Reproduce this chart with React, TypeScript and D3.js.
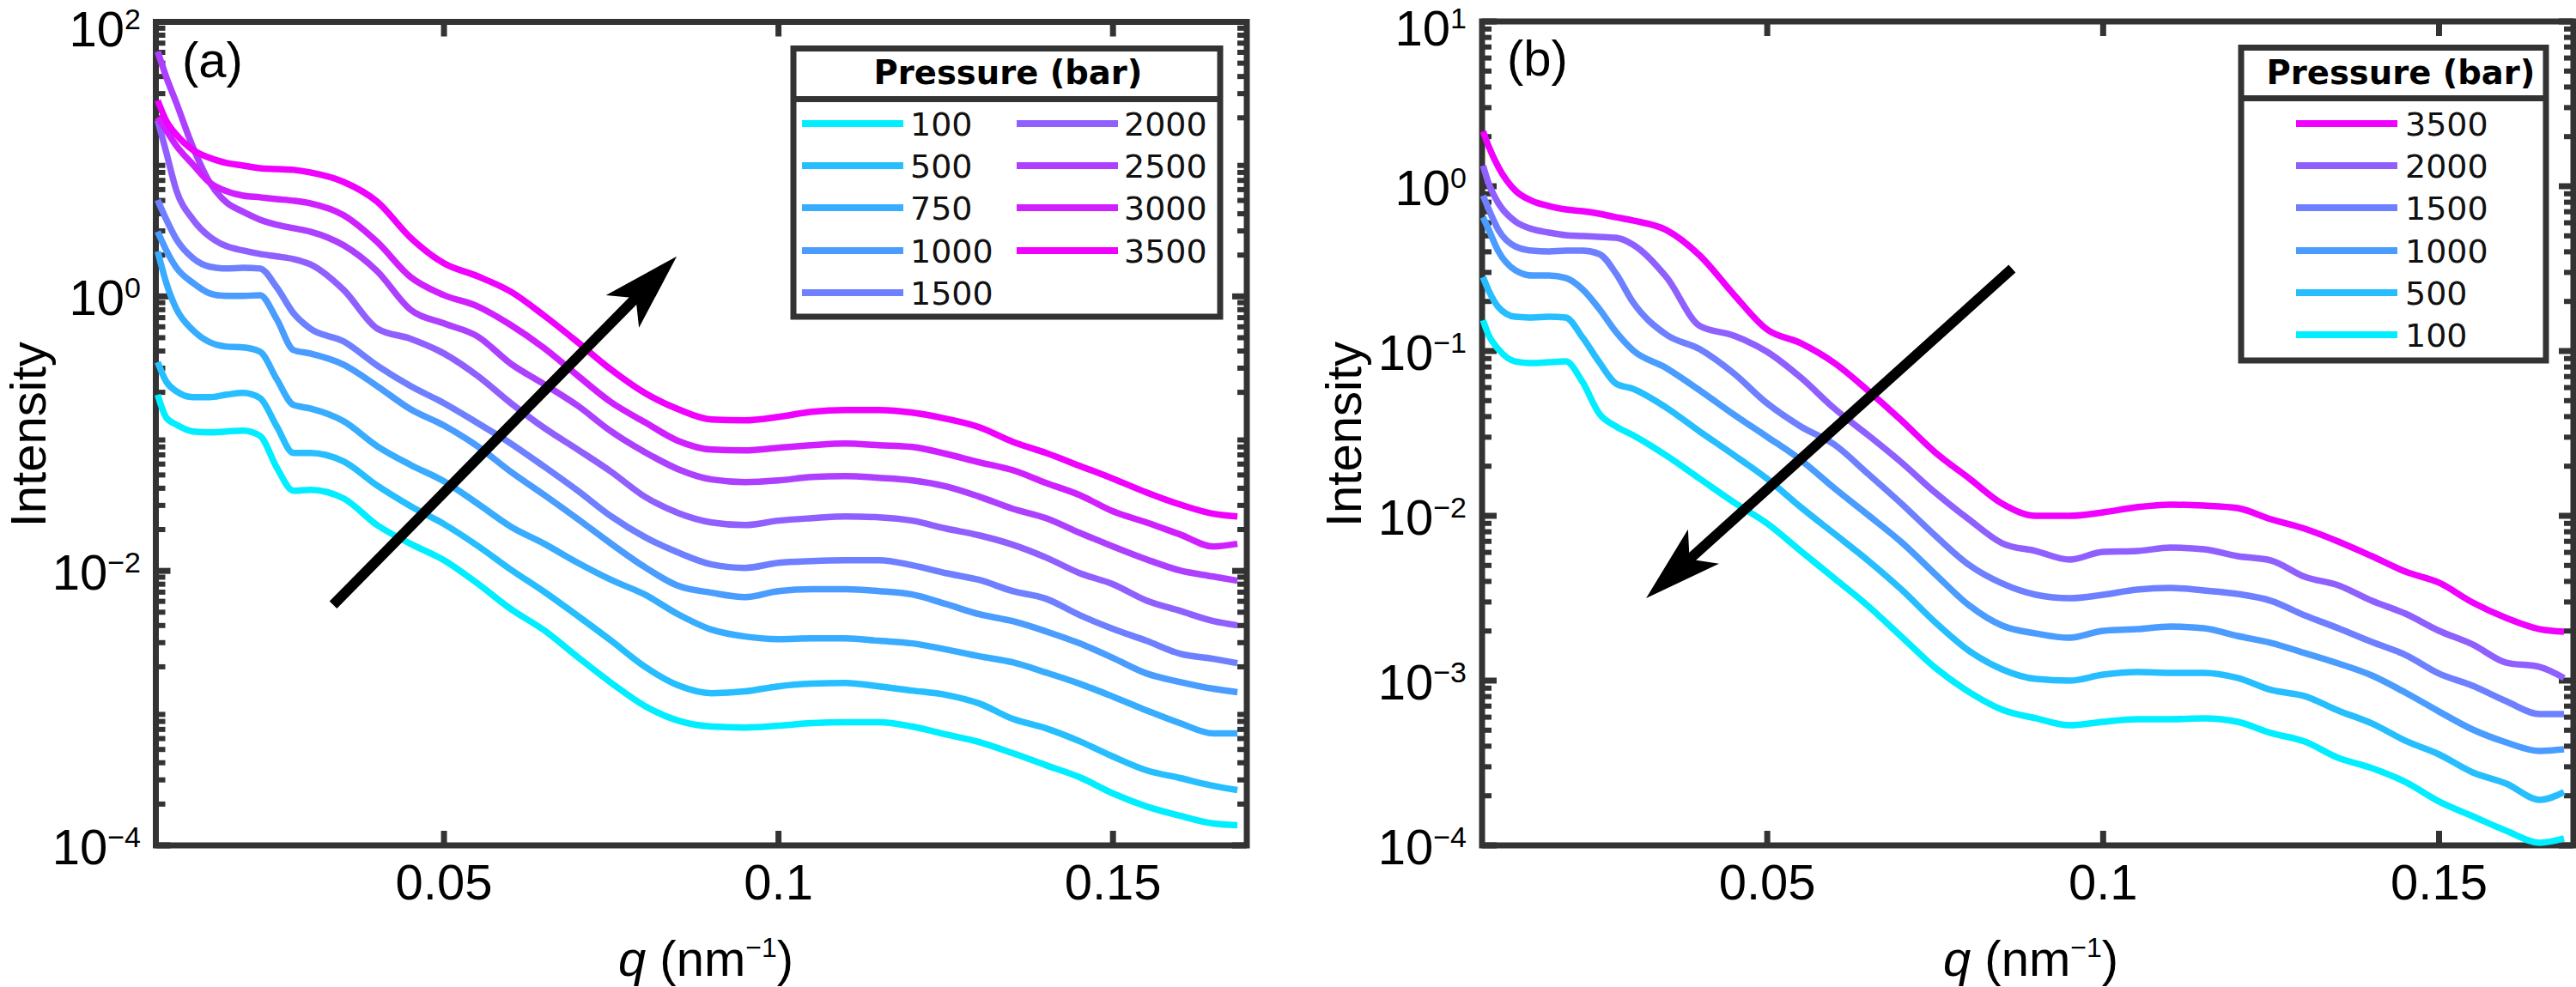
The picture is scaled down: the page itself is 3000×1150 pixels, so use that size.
import React from "react";
import * as d3 from "d3";

// shared q grid (nm^-1); first value differs per panel
const qTail = [0.0085,0.01,0.0125,0.015,0.0175,0.02,0.0225,0.025,0.0275,0.03,0.035,0.04,0.045,0.05,0.055,0.06,0.065,0.07,0.075,0.08,0.085,0.09,0.095,0.1,0.105,0.11,0.115,0.12,0.125,0.13,0.135,0.14,0.145,0.15,0.155,0.16,0.165,0.1686];
const qA = [0.0072, ...qTail];
const qB = [0.0077, ...qTail];

// log10(Intensity), panel (a)
const a100 = [-0.716,-0.884,-0.934,-0.984,-0.991,-0.984,-0.978,-1.016,-1.247,-1.416,-1.409,-1.472,-1.666,-1.803,-1.922,-2.091,-2.278,-2.434,-2.628,-2.816,-2.984,-3.091,-3.134,-3.141,-3.128,-3.109,-3.103,-3.103,-3.134,-3.191,-3.247,-3.328,-3.416,-3.503,-3.622,-3.716,-3.784,-3.841,-3.853];
const a500 = [-0.478,-0.622,-0.691,-0.734,-0.734,-0.716,-0.703,-0.741,-0.947,-1.141,-1.141,-1.203,-1.378,-1.528,-1.659,-1.816,-1.991,-2.153,-2.328,-2.509,-2.697,-2.834,-2.891,-2.878,-2.841,-2.822,-2.816,-2.841,-2.872,-2.903,-2.966,-3.078,-3.147,-3.241,-3.353,-3.453,-3.509,-3.566,-3.597];
const a750 = [0.328,0.097,-0.091,-0.247,-0.334,-0.366,-0.372,-0.403,-0.603,-0.791,-0.816,-0.909,-1.091,-1.228,-1.347,-1.509,-1.678,-1.803,-1.941,-2.066,-2.172,-2.316,-2.428,-2.478,-2.497,-2.491,-2.491,-2.509,-2.528,-2.572,-2.622,-2.666,-2.741,-2.822,-2.916,-3.016,-3.109,-3.184,-3.184];
const a1000 = [0.472,0.334,0.209,0.097,0.022,0.003,0.003,0.009,-0.166,-0.391,-0.416,-0.497,-0.653,-0.822,-0.941,-1.091,-1.278,-1.447,-1.622,-1.803,-1.972,-2.109,-2.159,-2.191,-2.147,-2.134,-2.134,-2.147,-2.172,-2.241,-2.316,-2.366,-2.441,-2.528,-2.634,-2.747,-2.809,-2.859,-2.884];
const a1500 = [0.703,0.559,0.416,0.278,0.216,0.203,0.209,0.203,0.066,-0.122,-0.234,-0.328,-0.503,-0.653,-0.778,-0.922,-1.072,-1.241,-1.416,-1.603,-1.753,-1.866,-1.953,-1.978,-1.941,-1.928,-1.922,-1.922,-1.959,-2.016,-2.066,-2.147,-2.203,-2.322,-2.422,-2.509,-2.603,-2.641,-2.672];
const a2000 = [1.284,1.047,0.772,0.559,0.434,0.366,0.334,0.309,0.291,0.272,0.234,0.047,-0.234,-0.309,-0.416,-0.578,-0.778,-0.959,-1.116,-1.278,-1.459,-1.578,-1.647,-1.666,-1.634,-1.616,-1.603,-1.609,-1.634,-1.691,-1.741,-1.809,-1.903,-2.016,-2.097,-2.216,-2.291,-2.366,-2.397];
const a2500 = [1.784,1.597,1.409,1.084,0.828,0.684,0.616,0.559,0.522,0.497,0.472,0.372,0.184,-0.097,-0.197,-0.291,-0.491,-0.641,-0.797,-0.984,-1.134,-1.259,-1.334,-1.353,-1.341,-1.316,-1.309,-1.322,-1.341,-1.384,-1.459,-1.547,-1.616,-1.722,-1.822,-1.916,-1.997,-2.041,-2.072];
const a3000 = [1.303,1.209,1.097,0.959,0.828,0.766,0.734,0.722,0.709,0.697,0.678,0.591,0.397,0.141,0.009,-0.072,-0.209,-0.378,-0.578,-0.772,-0.916,-1.053,-1.116,-1.122,-1.103,-1.084,-1.072,-1.084,-1.097,-1.147,-1.209,-1.266,-1.359,-1.447,-1.566,-1.647,-1.734,-1.822,-1.803];
const a3500 = [1.428,1.278,1.178,1.066,1.009,0.972,0.953,0.934,0.928,0.922,0.903,0.834,0.691,0.428,0.241,0.147,0.034,-0.141,-0.334,-0.534,-0.703,-0.822,-0.897,-0.903,-0.878,-0.841,-0.828,-0.828,-0.847,-0.891,-0.953,-1.059,-1.141,-1.234,-1.328,-1.428,-1.516,-1.584,-1.603];

// log10(Intensity), panel (b)
const b100 = [-0.813,-0.901,-0.990,-1.063,-1.073,-1.068,-1.063,-1.188,-1.380,-1.458,-1.510,-1.635,-1.776,-1.917,-2.047,-2.214,-2.380,-2.547,-2.734,-2.922,-3.068,-3.177,-3.229,-3.271,-3.250,-3.234,-3.234,-3.229,-3.250,-3.318,-3.370,-3.469,-3.531,-3.615,-3.734,-3.823,-3.911,-3.984,-3.958];
const b500 = [-0.552,-0.630,-0.734,-0.792,-0.797,-0.792,-0.797,-0.917,-1.068,-1.198,-1.229,-1.344,-1.490,-1.630,-1.776,-1.948,-2.109,-2.271,-2.448,-2.646,-2.818,-2.932,-2.990,-3.000,-2.964,-2.948,-2.953,-2.953,-2.984,-3.057,-3.094,-3.182,-3.260,-3.365,-3.448,-3.557,-3.625,-3.724,-3.677];
const b1000 = [-0.188,-0.260,-0.396,-0.510,-0.542,-0.542,-0.557,-0.625,-0.745,-0.885,-0.995,-1.104,-1.240,-1.385,-1.521,-1.661,-1.833,-1.995,-2.161,-2.354,-2.542,-2.667,-2.714,-2.740,-2.698,-2.688,-2.672,-2.682,-2.729,-2.771,-2.833,-2.896,-2.969,-3.073,-3.188,-3.297,-3.375,-3.427,-3.417];
const b1500 = [-0.057,-0.135,-0.266,-0.365,-0.391,-0.396,-0.391,-0.391,-0.411,-0.531,-0.703,-0.901,-0.990,-1.135,-1.318,-1.458,-1.568,-1.745,-1.927,-2.120,-2.297,-2.411,-2.479,-2.500,-2.479,-2.448,-2.438,-2.453,-2.474,-2.516,-2.604,-2.682,-2.766,-2.844,-2.958,-3.031,-3.125,-3.203,-3.203];
const b2000 = [0.125,0.021,-0.104,-0.214,-0.260,-0.281,-0.297,-0.302,-0.307,-0.313,-0.354,-0.552,-0.849,-0.906,-1.005,-1.161,-1.349,-1.510,-1.677,-1.859,-2.021,-2.167,-2.214,-2.266,-2.219,-2.214,-2.193,-2.203,-2.245,-2.271,-2.370,-2.422,-2.516,-2.594,-2.698,-2.781,-2.891,-2.917,-2.984];
const b3500 = [0.333,0.245,0.115,-0.026,-0.089,-0.120,-0.141,-0.151,-0.167,-0.188,-0.208,-0.266,-0.422,-0.656,-0.870,-0.953,-1.073,-1.240,-1.422,-1.615,-1.771,-1.927,-2.000,-2.000,-1.979,-1.948,-1.932,-1.938,-1.953,-2.021,-2.078,-2.156,-2.245,-2.339,-2.406,-2.526,-2.620,-2.688,-2.703];

const colors: Record<string, string> = {
  "100": "#00EEFF", "500": "#26BEFF", "750": "#38ACFF", "1000": "#4A9CFF", "1500": "#6E80FF",
  "2000": "#9060FF", "2500": "#AD40FF", "3000": "#D020FF", "3500": "#F000FF",
};
const seriesA: [string, number[]][] = [["100",a100],["500",a500],["750",a750],["1000",a1000],["1500",a1500],["2000",a2000],["2500",a2500],["3000",a3000],["3500",a3500]];
const seriesB: [string, number[]][] = [["100",b100],["500",b500],["1000",b1000],["1500",b1500],["2000",b2000],["3500",b3500]];
const xTicks = [0.05, 0.1, 0.15];
const xTickLabels = ["0.05", "0.1", "0.15"];
const AXIS = "#333333";
const SANS = "'Liberation Sans', Arial, sans-serif";
const VERD = "'DejaVu Sans', Verdana, sans-serif";

type PanelProps = {
  left: number; right: number; top: number; bottom: number;
  qDomain: [number, number]; expTop: number; expBottom: number; majorExps: number[];
  q: number[]; series: [string, number[]][]; tag: string; tagX: number; tagY: number;
  labelRight: number; ylabelX: number; xlabelX: number;
  arrow: { from: [number, number]; to: [number, number] };
  legend: React.ReactNode;
};

function Panel(p: PanelProps) {
  const x = d3.scaleLinear().domain(p.qDomain).range([p.left, p.right]);
  const y = d3.scaleLog().domain([10 ** p.expBottom, 10 ** p.expTop]).range([p.bottom, p.top]);
  const line = d3.line<number>().x((_, i) => x(p.q[i])).y((v) => y(10 ** v)).curve(d3.curveMonotoneX);
  const minor: number[] = [];
  d3.range(p.expBottom, p.expTop).forEach((e) => { d3.range(2, 10).forEach((k) => minor.push(k * 10 ** e)); });
  const ax = { stroke: AXIS, fill: "none" } as const;
  const ax0 = x(p.arrow.from[0]), ay0 = y(10 ** p.arrow.from[1]);
  const ax1 = x(p.arrow.to[0]), ay1 = y(10 ** p.arrow.to[1]);
  const len = Math.hypot(ax1 - ax0, ay1 - ay0);
  const ux = (ax1 - ax0) / len, uy = (ay1 - ay0) / len;
  const nx = -uy, ny = ux;
  const headPt = (al: number, pe: number) => `${ax1 - ux * al + nx * pe},${ay1 - uy * al + ny * pe}`;
  return (
    <g>
      <g {...ax}>
        {minor.map((m) => (
          <g key={m} strokeWidth={6}>
            <line x1={p.left} x2={p.left + 11} y1={y(m)} y2={y(m)} />
            <line x1={p.right} x2={p.right - 11} y1={y(m)} y2={y(m)} />
          </g>
        ))}
        {p.majorExps.map((e) => (
          <g key={e} strokeWidth={7}>
            <line x1={p.left} x2={p.left + 17} y1={y(10 ** e)} y2={y(10 ** e)} />
            <line x1={p.right} x2={p.right - 17} y1={y(10 ** e)} y2={y(10 ** e)} />
          </g>
        ))}
        {xTicks.map((t) => (
          <g key={t} strokeWidth={7}>
            <line x1={x(t)} x2={x(t)} y1={p.bottom} y2={p.bottom - 17} />
            <line x1={x(t)} x2={x(t)} y1={p.top} y2={p.top + 17} />
          </g>
        ))}
        <rect x={p.left} y={p.top} width={p.right - p.left} height={p.bottom - p.top} strokeWidth={7} />
      </g>
      {p.series.map(([name, vals]) => (
        <path key={name} d={line(vals) as string} fill="none" stroke={colors[name]} strokeWidth={7.5} strokeLinejoin="round" />
      ))}
      <line x1={ax0} y1={ay0} x2={ax1 - ux * 60} y2={ay1 - uy * 60} stroke="#000" strokeWidth={12} />
      <polygon points={[headPt(0, 0), headPt(90, 27), headPt(68, 0), headPt(90, -27)].join(" ")} fill="#000" />
      <g fontFamily={SANS} fill="#000" fontSize={58}>
        {p.majorExps.map((e) => (
          <text key={e} x={p.labelRight} y={y(10 ** e) + (e === p.expTop ? 28 : 22)} textAnchor="end">
            10<tspan dy={-20} fontSize={34}>{e < 0 ? `\u2212${-e}` : e}</tspan>
          </text>
        ))}
        {xTicks.map((t, i) => (
          <text key={t} x={x(t)} y={1048} textAnchor="middle">{xTickLabels[i]}</text>
        ))}
        <text x={p.tagX} y={p.tagY}>{p.tag}</text>
        <text transform={`translate(${p.ylabelX},${(p.top + p.bottom) / 2 + 1}) rotate(-90)`} textAnchor="middle">Intensity</text>
        <text x={p.xlabelX} y={1137} textAnchor="middle">
          <tspan fontStyle="italic">q</tspan> (nm<tspan dy={-22} fontSize={32}>{"\u22121"}</tspan><tspan dy={22}>)</tspan>
        </text>
      </g>
      {p.legend}
    </g>
  );
}

function Legend(props: { x0: number; x1: number; y0: number; y1: number; headerY: number; titleX: number; cols: { names: string[]; lineX: [number, number]; textX: number }[] }) {
  const rows = [144, 193, 242, 292, 341, 390];
  return (
    <g>
      <rect x={props.x0} y={props.y0} width={props.x1 - props.x0} height={props.y1 - props.y0} fill="#fff" stroke={AXIS} strokeWidth={7} />
      <line x1={props.x0} x2={props.x1} y1={props.headerY} y2={props.headerY} stroke={AXIS} strokeWidth={7} />
      <text x={props.titleX} y={98} textAnchor="middle" fontFamily={VERD} fontWeight="bold" fontSize={38.5} fill="#000">Pressure (bar)</text>
      {props.cols.map((c, ci) => c.names.map((n, i) => (
        <g key={`${ci}-${n}`}>
          <line x1={c.lineX[0]} x2={c.lineX[1]} y1={rows[i]} y2={rows[i]} stroke={colors[n]} strokeWidth={8} />
          <text x={c.textX} y={rows[i] + 14} fontFamily={VERD} fontSize={38} fill="#111">{n}</text>
        </g>
      )))}
    </g>
  );
}

export default function App() {
  document.body.style.margin = "0";
  return (
    <svg width={3000} height={1150} viewBox="0 0 3000 1150" style={{ position: "absolute", left: 0, top: 0, background: "#fff" }}>
      <Panel
        left={181.5} right={1452} top={25.5} bottom={985}
        qDomain={[0.00693, 0.17]} expTop={2} expBottom={-4} majorExps={[2, 0, -2, -4]}
        q={qA} series={seriesA} tag="(a)" tagX={212} tagY={90} labelRight={164} ylabelX={53} xlabelX={822}
        arrow={{ from: [0.03344, -2.247], to: [0.08479, 0.291] }}
        legend={<Legend x0={924} x1={1421} y0={56.5} y1={369} headerY={115.5} titleX={1174} cols={[
          { names: ["100", "500", "750", "1000", "1500"], lineX: [934, 1052], textX: 1060 },
          { names: ["2000", "2500", "3000", "3500"], lineX: [1184, 1302], textX: 1309 },
        ]} />}
      />
      <Panel
        left={1726} right={2997} top={25} bottom={985}
        qDomain={[0.00755, 0.17]} expTop={1} expBottom={-4} majorExps={[1, 0, -1, -2, -3, -4]}
        q={qB} series={seriesB} tag="(b)" tagX={1755} tagY={88} labelRight={1708} ylabelX={1585} xlabelX={2365}
        arrow={{ from: [0.08645, -0.5], to: [0.03197, -2.5] }}
        legend={<Legend x0={2610} x1={2965} y0={55.5} y1={420} headerY={114.5} titleX={2796} cols={[
          { names: ["3500", "2000", "1500", "1000", "500", "100"], lineX: [2674, 2792], textX: 2801 },
        ]} />}
      />
    </svg>
  );
}
